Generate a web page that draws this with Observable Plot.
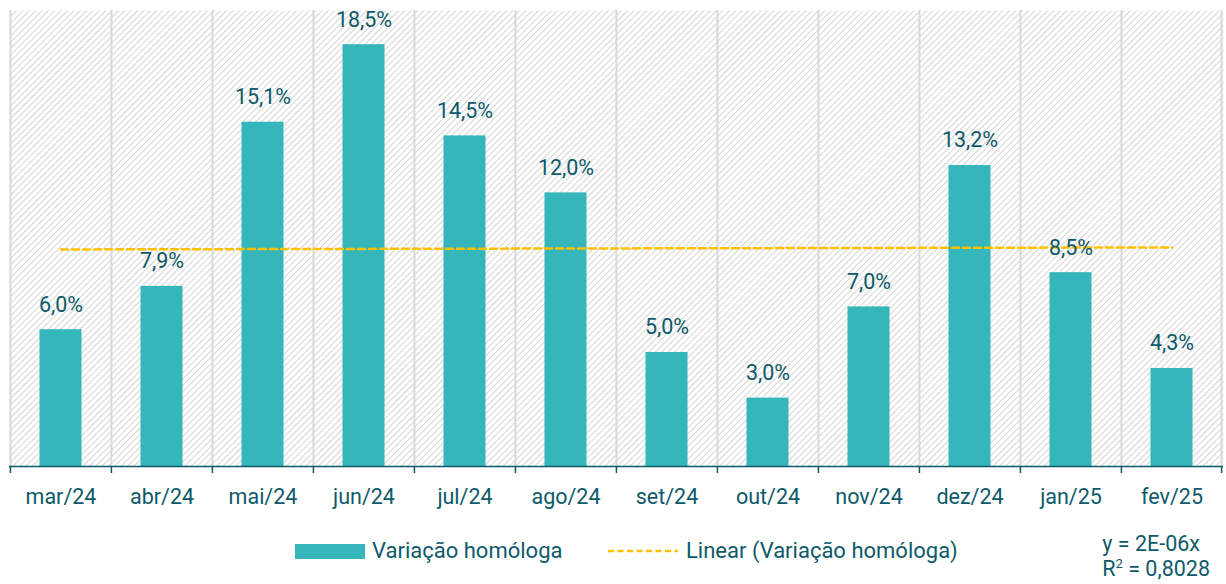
<!DOCTYPE html>
<html><head><meta charset="utf-8">
<script src="https://cdn.jsdelivr.net/npm/d3@7"></script>
<script src="https://cdn.jsdelivr.net/npm/@observablehq/plot@0.6"></script>
<style>
body{margin:0;background:#fff;}
#wrap{position:relative;width:1226px;height:584px;overflow:hidden;font-family:Roboto,"Noto Sans",sans-serif;color:#0E5A6A;}
.lg{position:absolute;white-space:nowrap;}
</style></head><body><div id="wrap"></div>
<script>
const months = ["mar/24","abr/24","mai/24","jun/24","jul/24","ago/24","set/24","out/24","nov/24","dez/24","jan/25","fev/25"];
const values = [6.0, 7.9, 15.1, 18.5, 14.5, 12.0, 5.0, 3.0, 7.0, 13.2, 8.5, 4.3];
const trendMonths = ["mar/24", "fev/25"];
const trendValues = [9.52, 9.61];
const seriesName = "Variação homóloga";
const trendName = "Linear (Variação homóloga)";
const equationLines = ["y = 2E-06x", "R² = 0,8028"];

const data = months.map((m, i) => ({month: m, value: values[i]}));
const trend = trendMonths.map((m, i) => ({month: m, value: trendValues[i]}));

const W = 1226, H = 525, ml = 9, mr = 3, mt = 10, mb = 59;
const bw = (W - ml - mr) / months.length;
const teal = "#34B6BA", dark = "#0E5A6A", grid = "#d9d9d9", gold = "#FFC000";
const fmt = v => v.toFixed(1).replace(".", ",") + "%";

const chart = Plot.plot({
  width: W, height: H,
  marginLeft: ml, marginRight: mr, marginTop: mt, marginBottom: mb,
  style: {fontFamily: "Roboto, 'Noto Sans', sans-serif", fontSize: "21.5px", color: dark, background: "transparent"},
  x: {domain: months, padding: 0, label: null},
  y: {domain: [0, 20], axis: null},
  marks: [
    Plot.frame({fill: "url(#hatch)", stroke: "none"}),
    Plot.ruleX(months, {x: d => d, dx: -bw / 2, stroke: grid, strokeWidth: 2}),
    Plot.ruleX([months[months.length - 1]], {x: d => d, dx: bw / 2 - 1, stroke: grid, strokeWidth: 2}),
    Plot.barY(data, {x: "month", y: "value", fill: teal, insetLeft: 29.5, insetRight: 29.5}),
    Plot.ruleY([0], {stroke: dark, strokeWidth: 1.5}),
    Plot.ruleX(months, {x: d => d, dx: -bw / 2, y1: 0, y2: 0, insetBottom: -7, stroke: dark, strokeWidth: 1.5}),
    Plot.ruleX([months[months.length - 1]], {x: d => d, dx: bw / 2 - 1, y1: 0, y2: 0, insetBottom: -7, stroke: dark, strokeWidth: 1.5}),
    Plot.lineY(trend, {x: "month", y: "value", stroke: gold, strokeWidth: 2.5, strokeDasharray: "7,4"}),
    Plot.text(data, {x: "month", y: "value", text: d => fmt(d.value), dy: -25, fill: dark, fontSize: 21.5}),
    Plot.axisX({tickSize: 0, tickPadding: 22, fontSize: 21.5, fill: dark})
  ]
});

const defs = document.createElementNS("http://www.w3.org/2000/svg", "defs");
defs.innerHTML = `<pattern id="hatch" patternUnits="userSpaceOnUse" width="4.5" height="4.5" patternTransform="rotate(-45)">
  <rect width="4.5" height="4.5" fill="#ffffff"/>
  <line x1="0" y1="0" x2="4.5" y2="0" stroke="#d6d6d6" stroke-width="2.2"/>
</pattern>`;
chart.insertBefore(defs, chart.firstChild);

const wrap = document.getElementById("wrap");
wrap.appendChild(chart);

function addEl(html, style) {
  const d = document.createElement("div");
  d.className = "lg";
  d.innerHTML = html;
  Object.assign(d.style, style);
  wrap.appendChild(d);
  return d;
}
addEl("", {left: "295px", top: "544px", width: "70px", height: "15px", background: teal});
addEl(seriesName, {left: "372px", top: "538px", fontSize: "22px", lineHeight: "26px"});
addEl(`<svg width="70" height="6"><line x1="0" y1="3" x2="70" y2="3" stroke="${gold}" stroke-width="2.5" stroke-dasharray="6,3.5"/></svg>`, {left: "608px", top: "548px", lineHeight: "0"});
addEl(trendName, {left: "686px", top: "538px", fontSize: "22px", lineHeight: "26px"});
addEl(equationLines[0], {right: "26px", top: "531px", fontSize: "21.5px", lineHeight: "26px"});
addEl(equationLines[1].replace("²", "<sup style='font-size:13px;vertical-align:8px;line-height:0'>2</sup>"), {right: "16px", top: "556px", fontSize: "21.5px", lineHeight: "26px"});
</script></body></html>
